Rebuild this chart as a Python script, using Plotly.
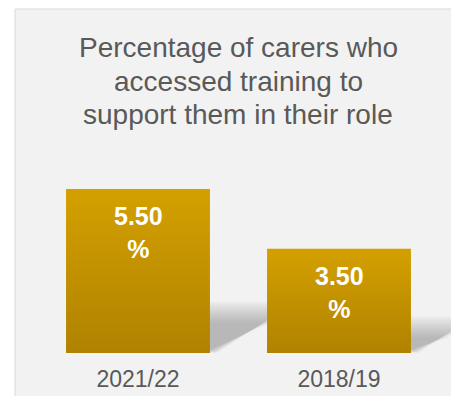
import plotly.graph_objects as go

# Survey results
periods = ["2021/22", "2018/19"]
pct_values = [5.50, 3.50]
title_lines = ["Percentage of carers who", "accessed training to",
               "support them in their role"]

FONT = "Liberation Sans, Arial, sans-serif"
W, H = 451, 396
BOTTOM_MARGIN = 43
PLOT_H = H - BOTTOM_MARGIN
PX_PER_UNIT = 29.8     # vertical pixels per percentage point
BAR_W = 0.716          # bar width in category units
TOP_COLOR = "#d4a000"
BOTTOM_COLOR = "#b08200"

fig = go.Figure()

xs = list(range(len(periods)))

# Soft perspective shadows cast up-right behind each bar
for xi, v in zip(xs, pct_values):
    sh = 0.25 * v          # shadow height
    dx = 0.056 * v         # horizontal skew of the shadow top
    x0 = xi - BAR_W / 2
    x1 = xi + BAR_W / 2
    layers = 12
    for k in range(layers):
        t = k / (layers - 1)          # 0 = widest halo, 1 = core
        spread = 1.0 - t
        gx = 0.12 * spread            # horizontal blur spread
        gy = 0.6 * spread             # vertical blur spread
        bottom = 0.12 * t
        top = sh + gy * 0.6 - 0.35 * t
        px = [x0, x1 + gx * 0.3, x1 + dx + gx, x0 + dx, x0]
        py = [bottom, bottom, top, top, bottom]
        fig.add_trace(go.Scatter(
            x=px, y=py, mode="lines", fill="toself",
            line=dict(width=0), fillcolor="rgba(110,110,110,0.04)",
            hoverinfo="skip", showlegend=False,
        ))

# Bars with a vertical gradient fill
for xi, v in zip(xs, pct_values):
    x0 = xi - BAR_W / 2
    x1 = xi + BAR_W / 2
    fig.add_trace(go.Scatter(
        x=[x0, x1, x1, x0, x0], y=[0, 0, v, v, 0],
        mode="lines", fill="toself", line=dict(width=0),
        fillgradient=dict(type="vertical",
                          colorscale=[[0, BOTTOM_COLOR], [1, TOP_COLOR]]),
        hoverinfo="skip", showlegend=False,
    ))

# Value labels inside the bars
for xi, v in zip(xs, pct_values):
    fig.add_annotation(
        x=xi, y=v, xref="x", yref="y", yanchor="top", yshift=-11,
        text=f"{v:.2f}<br>%", showarrow=False,
        font=dict(family=FONT, size=25, color="white", weight="bold"),
    )

# Chart title, one annotation per line
for i, line in enumerate(title_lines):
    cy = 48 + 33.5 * i
    fig.add_annotation(
        x=238 / W, y=(PLOT_H - cy) / PLOT_H, xref="paper", yref="paper",
        xanchor="center", yanchor="middle", text=line, showarrow=False,
        font=dict(family=FONT, size=28, color="#595959"),
    )

fig.update_layout(
    width=W, height=H,
    margin=dict(l=0, r=0, t=0, b=BOTTOM_MARGIN),
    paper_bgcolor="white", plot_bgcolor="rgba(0,0,0,0)",
    shapes=[dict(
        type="rect", xref="paper", yref="paper", layer="below",
        x0=15 / W, x1=1.05, y0=-0.3, y1=(PLOT_H - 9) / PLOT_H,
        fillcolor="#f2f2f2", line=dict(color="#d9d9d9", width=1),
    )],
    xaxis=dict(
        range=[-138 / 201, (W - 138) / 201],
        tickvals=xs, ticktext=periods, showgrid=False, zeroline=False,
        showline=False, ticks="", fixedrange=True,
        tickfont=dict(family=FONT, size=23, color="#595959"),
        ticklabelstandoff=10,
    ),
    yaxis=dict(
        range=[0, PLOT_H / PX_PER_UNIT], visible=False, fixedrange=True,
    ),
)

fig.write_html("out.html")
